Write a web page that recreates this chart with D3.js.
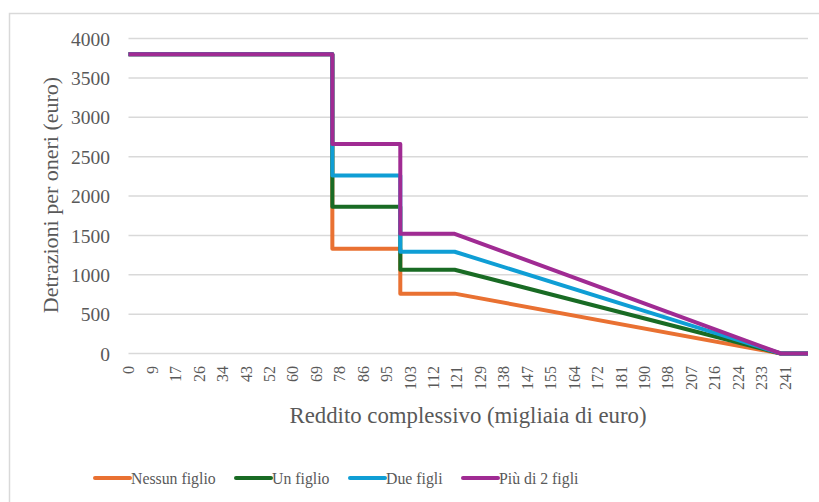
<!DOCTYPE html>
<html>
<head>
<meta charset="utf-8">
<script src="https://cdn.jsdelivr.net/npm/d3@7"></script>
<style>
  html, body { margin: 0; padding: 0; background: #ffffff; }
  svg { display: block; }
  text { font-family: "Liberation Serif", "Times New Roman", serif; fill: #595959; }
</style>
</head>
<body>
<svg id="chart" width="819" height="502"></svg>
<script>
// Reddito complessivo (migliaia di euro): punti di svolta delle curve
const reddito = [0, 75, 75, 100, 100, 120, 240, 250];

// Detrazioni per oneri (euro) per numero di figli
const nessunFiglio = [3800, 3800, 1330, 1330, 760, 760, 0, 0];
const unFiglio     = [3800, 3800, 1862, 1862, 1064, 1064, 0, 0];
const dueFigli     = [3800, 3800, 2261, 2261, 1292, 1292, 0, 0];
const piuDi2Figli  = [3800, 3800, 2660, 2660, 1520, 1520, 0, 0];

const seriesNames  = ["Nessun figlio", "Un figlio", "Due figli", "Più di 2 figli"];
const seriesValues = [nessunFiglio, unFiglio, dueFigli, piuDi2Figli];
const seriesColors = ["#E97132", "#196B24", "#0F9ED5", "#A02B93"];

// Etichette dell'asse delle categorie (29 intervalli uguali fra 0 e 250)
const xTickLabels = ["0","9","17","26","34","43","52","60","69","78","86","95","103","112",
  "121","129","138","147","155","164","172","181","190","198","207","216","224","233","241"];
const yTicks = [0, 500, 1000, 1500, 2000, 2500, 3000, 3500, 4000];

const xMax = 250, xIntervals = 29;
const serif = "'Liberation Serif', 'Times New Roman', serif";

const svg = d3.select("#chart");

// cornice dell'area del grafico
svg.append("path")
  .attr("d", "M9.5,502 V13.5 H819")
  .attr("fill", "none")
  .attr("stroke", "#d9d9d9")
  .attr("stroke-width", 1.5);

const x = d3.scaleLinear().domain([0, xMax]).range([128.5, 808]);
const y = d3.scaleLinear().domain([0, 4000]).range([353.5, 38.5]);

// griglia orizzontale e etichette dell'asse Y
svg.append("g").selectAll("line")
  .data(yTicks)
  .join("line")
  .attr("x1", x(0))
  .attr("x2", x(xMax))
  .attr("y1", d => y(d))
  .attr("y2", d => y(d))
  .attr("stroke", "#d9d9d9")
  .attr("stroke-width", 1.5);

const yAxis = d3.axisLeft(y).tickValues(yTicks).tickFormat(d3.format("d"))
  .tickSize(0).tickPadding(0);
const gy = svg.append("g").attr("transform", "translate(110,0)").call(yAxis)
  .attr("font-family", serif);
gy.select(".domain").remove();
gy.selectAll("text")
  .attr("x", 0)
  .attr("dy", "0.34em")
  .style("font-size", "19.5px")
  .attr("fill", "#595959");

// etichette dell'asse X, ruotate
const xTickPos = xTickLabels.map((_, i) => i * xMax / xIntervals);
const xAxis = d3.axisBottom(x).tickValues(xTickPos).tickSize(0).tickPadding(0)
  .tickFormat((d, i) => xTickLabels[i]);
const gx = svg.append("g").attr("transform", "translate(0,366)").call(xAxis)
  .attr("font-family", serif);
gx.select(".domain").remove();
gx.selectAll("text")
  .attr("transform", "rotate(-90)")
  .attr("x", 0)
  .attr("y", 0)
  .attr("dy", "0.34em")
  .attr("text-anchor", "end")
  .style("font-size", "16px")
  .attr("fill", "#595959");

// curve
const line = d3.line()
  .x((d, i) => x(reddito[i]))
  .y(d => y(d));

svg.append("g").selectAll("path")
  .data(seriesValues)
  .join("path")
  .attr("d", d => line(d))
  .attr("fill", "none")
  .attr("stroke", (d, i) => seriesColors[i])
  .attr("stroke-width", 4)
  .attr("stroke-linejoin", "round")
  .attr("stroke-linecap", "butt");

// titoli degli assi
svg.append("text")
  .attr("x", 468)
  .attr("y", 423)
  .attr("text-anchor", "middle")
  .style("font-size", "22.8px")
  .text("Reddito complessivo (migliaia di euro)");

svg.append("text")
  .attr("transform", "translate(58,195) rotate(-90)")
  .attr("text-anchor", "middle")
  .style("font-size", "22px")
  .text("Detrazioni per oneri (euro)");

// legenda
const legendX = [95, 236, 350, 463];
const legend = svg.append("g").selectAll("g")
  .data(seriesNames)
  .join("g")
  .attr("transform", (d, i) => `translate(${legendX[i]},478)`);
legend.append("line")
  .attr("x1", 0).attr("x2", 35)
  .attr("y1", 0).attr("y2", 0)
  .attr("stroke", (d, i) => seriesColors[i])
  .attr("stroke-width", 4)
  .attr("stroke-linecap", "round");
legend.append("text")
  .attr("x", 36)
  .attr("y", 5.5)
  .style("font-size", "15.8px")
  .text(d => d);
</script>
</body>
</html>
